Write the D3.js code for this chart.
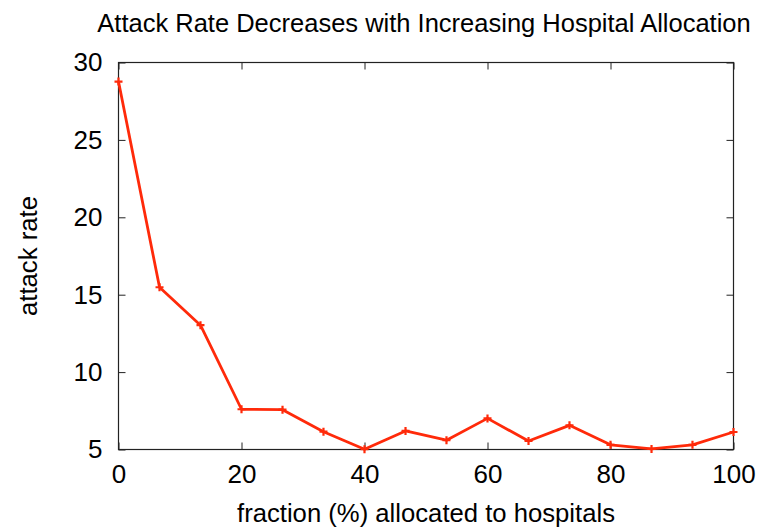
<!DOCTYPE html>
<meta charset="utf-8">
<style>
body{ margin: 0; background: white; }
svg text{ font-family: "Liberation Sans", Arial, sans-serif; fill: black; }
</style>
<body>
<div id="chart"></div>
<script src="https://d3js.org/d3.v7.min.js"></script>
<script>

var fractions = [0, 6.67, 13.33, 20, 26.67, 33.33, 40, 46.67, 53.33, 60, 66.67, 73.33, 80, 86.67, 93.33, 100]
var attackRate = [28.77, 15.48, 13.03, 7.6, 7.57, 6.15, 5.02, 6.2, 5.6, 7.01, 5.55, 6.56, 5.3, 5.04, 5.3, 6.13]
var xTicks = [0, 20, 40, 60, 80, 100]
var yTicks = [5, 10, 15, 20, 25, 30]

var width = 759,
    height = 527,
    m = {left: 118.5, right: 25.5, top: 62.5, bottom: 77.5},
    tick = 7

var svg = d3.select('#chart').append('svg')
    .attr('width', width).attr('height', height)

var x = d3.scaleLinear().domain([0, 100]).range([m.left, width - m.right])
var y = d3.scaleLinear().domain([5, 30]).range([height - m.bottom, m.top])

// gnuplot style: ticks inside on all four sides
var axes = [
  {ax: d3.axisBottom(x).tickValues(xTicks).tickSizeInner(-tick).tickSizeOuter(0).tickPadding(tick + 8), t: 'translate(0,' + y(5) + ')', labels: true},
  {ax: d3.axisTop(x).tickValues(xTicks).tickSizeInner(-tick).tickSizeOuter(0), t: 'translate(0,' + y(30) + ')', labels: false},
  {ax: d3.axisLeft(y).tickValues(yTicks).tickSizeInner(-tick).tickSizeOuter(0).tickPadding(tick + 9), t: 'translate(' + x(0) + ',0)', labels: true},
  {ax: d3.axisRight(y).tickValues(yTicks).tickSizeInner(-tick).tickSizeOuter(0), t: 'translate(' + x(100) + ',0)', labels: false}
]

axes.forEach(function(a){
  var g = svg.append('g').attr('transform', a.t).call(a.ax)
  g.select('.domain').remove()
  g.selectAll('line').attr('stroke', '#222')
  g.selectAll('text')
      .style('font-size', '26px')
      .style('font-family', '"Liberation Sans", Arial, sans-serif')
      .attr('fill', 'black')
      .style('display', a.labels ? null : 'none')
})

svg.append('rect')
    .attr('x', x(0)).attr('y', y(30))
    .attr('width', x(100) - x(0)).attr('height', y(5) - y(30))
    .attr('fill', 'none').attr('stroke', '#222').attr('stroke-width', 1.2)

var pts = fractions.map(function(f, i){ return [f, attackRate[i]] })

svg.append('path')
    .datum(pts)
    .attr('fill', 'none')
    .attr('stroke', '#ff2a0a')
    .attr('stroke-width', 2.8)
    .attr('stroke-linejoin', 'round')
    .attr('d', d3.line().x(function(d){ return x(d[0]) }).y(function(d){ return y(d[1]) }))

svg.append('g').selectAll('path')
    .data(pts)
  .join('path')
    .attr('d', function(d){
      var cx = x(d[0]), cy = y(d[1]), s = 4
      return 'M' + (cx - s) + ',' + cy + 'H' + (cx + s) + 'M' + cx + ',' + (cy - s) + 'V' + (cy + s)
    })
    .attr('stroke', '#ff2a0a')
    .attr('stroke-width', 2.2)

svg.append('text')
    .attr('x', 424).attr('y', 32)
    .attr('text-anchor', 'middle')
    .style('font-size', '25.5px')
    .text('Attack Rate Decreases with Increasing Hospital Allocation')

svg.append('text')
    .attr('x', (x(0) + x(100)) / 2).attr('y', 522)
    .attr('text-anchor', 'middle')
    .attr('textLength', 378)
    .attr('lengthAdjust', 'spacingAndGlyphs')
    .style('font-size', '26px')
    .text('fraction (%) allocated to hospitals')

svg.append('text')
    .attr('transform', 'translate(37,' + (y(5) + y(30)) / 2 + ') rotate(-90)')
    .attr('text-anchor', 'middle')
    .attr('textLength', 120)
    .attr('lengthAdjust', 'spacingAndGlyphs')
    .style('font-size', '26px')
    .text('attack rate')

</script>
</body>
